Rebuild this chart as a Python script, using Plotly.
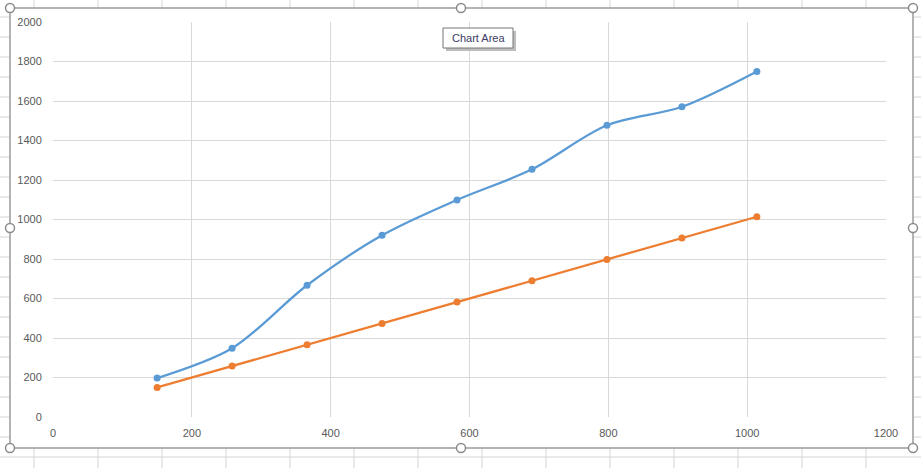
import plotly.graph_objects as go

# Data
x_vals = [150, 258, 366, 474, 582, 690, 798, 906, 1014]
series_blue = [197, 348, 667, 920, 1099, 1254, 1477, 1571, 1750]
series_orange = [150, 258, 366, 474, 582, 690, 798, 906, 1014]
x_ticks = [0, 200, 400, 600, 800, 1000, 1200]
y_ticks = [0, 200, 400, 600, 800, 1000, 1200, 1400, 1600, 1800, 2000]

W, H = 921, 468
L, R, T, B = 53, 886, 22, 417  # plot area in pixels


def px(xp):
    return (xp - L) / (R - L)


def py(yp):
    return (B - yp) / (B - T)


fig = go.Figure()
fig.add_trace(go.Scatter(
    x=x_vals, y=series_blue, mode="lines+markers",
    line=dict(color="#5B9BD5", width=2.25, shape="spline", smoothing=0.9),
    marker=dict(color="#5B9BD5", size=7), showlegend=False, hoverinfo="skip"))
fig.add_trace(go.Scatter(
    x=x_vals, y=series_orange, mode="lines+markers",
    line=dict(color="#ED7D31", width=2.25),
    marker=dict(color="#ED7D31", size=7), showlegend=False, hoverinfo="skip"))

shapes = []
grid_col = "#D4D4D4"
# spreadsheet cell grid (behind the chart area)
for xv in range(34, W, 64):
    shapes.append(dict(type="line", xref="paper", yref="paper", layer="below",
                       x0=px(xv), x1=px(xv), y0=py(0), y1=py(H),
                       line=dict(color=grid_col, width=1)))
for yv in range(17, H, 20):
    shapes.append(dict(type="line", xref="paper", yref="paper", layer="below",
                       x0=px(0), x1=px(W), y0=py(yv), y1=py(yv),
                       line=dict(color=grid_col, width=1)))
# chart area
CL, CR, CT, CB = 10, 913, 8, 448
shapes.append(dict(type="rect", xref="paper", yref="paper", layer="below",
                   x0=px(CL), x1=px(CR), y0=py(CB), y1=py(CT),
                   fillcolor="white", line=dict(color="#9B9B9B", width=1.5)))
# selection handles
for hx, hy in [(CL, CT), (461, CT), (CR, CT), (CL, 228), (CR, 228),
               (CL, CB), (461, CB), (CR, CB)]:
    shapes.append(dict(type="circle", xref="paper", yref="paper", layer="above",
                       x0=px(hx - 4.5), x1=px(hx + 4.5), y0=py(hy + 4.5), y1=py(hy - 4.5),
                       fillcolor="white", line=dict(color="#8C8C8C", width=1.5)))
# tooltip shadow and box
shapes.append(dict(type="rect", xref="paper", yref="paper", layer="above",
                   x0=px(446), x1=px(516), y0=py(51), y1=py(31),
                   fillcolor="#BDBDBD", line=dict(width=0)))
shapes.append(dict(type="rect", xref="paper", yref="paper", layer="above",
                   x0=px(443), x1=px(513), y0=py(48), y1=py(28),
                   fillcolor="white", line=dict(color="#767676", width=1)))

annotations = [dict(xref="paper", yref="paper", x=px(478), y=py(38),
                    text="Chart Area", showarrow=False,
                    font=dict(family="Liberation Sans, Arial", size=11, color="#3C3C64"),
                    xanchor="center", yanchor="middle")]

axis_common = dict(showgrid=True, gridcolor="#D9D9D9", gridwidth=1, zeroline=False,
                   showline=False, ticks="outside", tickcolor="rgba(0,0,0,0)",
                   tickfont=dict(family="Liberation Sans, Arial", size=11, color="#595959"))

fig.update_layout(
    width=W, height=H,
    margin=dict(l=L, r=W - R, t=T, b=H - B, pad=0),
    paper_bgcolor="white", plot_bgcolor="rgba(0,0,0,0)",
    xaxis=dict(range=[0, 1200], tickvals=x_ticks, ticklen=6, **axis_common),
    yaxis=dict(range=[0, 2000], tickvals=y_ticks, ticklen=8, **axis_common),
    shapes=shapes, annotations=annotations,
)

fig.write_html("out.html", config={"staticPlot": True},
               post_script="document.body.style.margin='0';document.body.style.overflow='hidden';")
